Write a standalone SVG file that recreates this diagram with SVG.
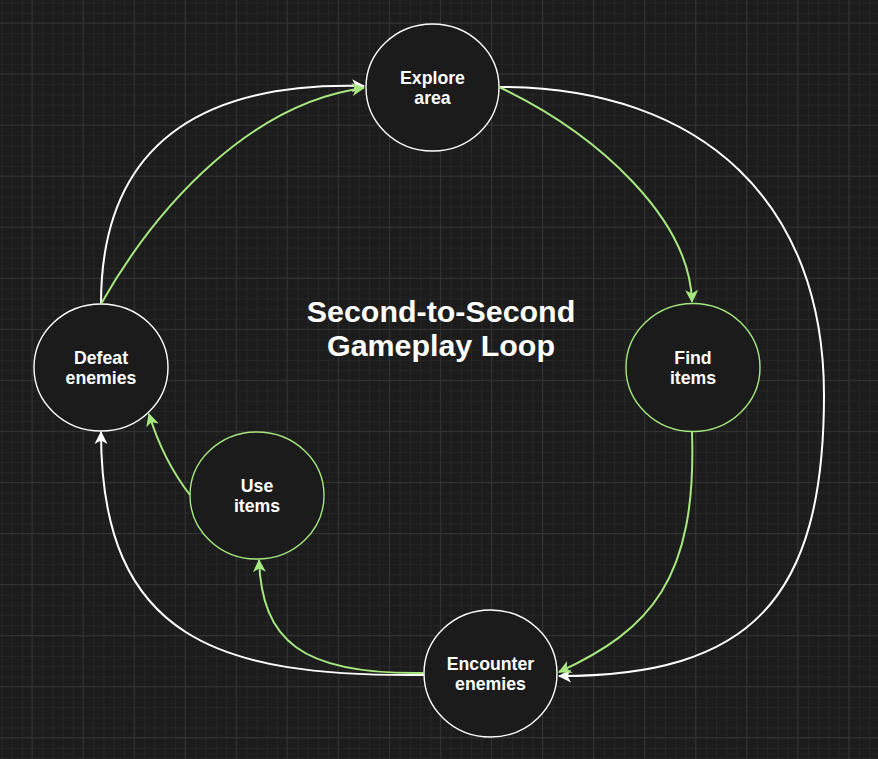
<svg xmlns="http://www.w3.org/2000/svg" width="878" height="759" viewBox="0 0 878 759">
  <defs>
    <pattern id="minor" x="32" y="23" width="10.21" height="10.21" patternUnits="userSpaceOnUse">
      <path d="M0 0.5H10.21M0.5 0V10.21" stroke="#252525" stroke-width="1" fill="none"/>
    </pattern>
    <pattern id="major" x="31.5" y="22.5" width="51.05" height="51.05" patternUnits="userSpaceOnUse">
      <path d="M0 0.5H51.05M0.5 0V51.05" stroke="#333333" stroke-width="1" fill="none"/>
    </pattern>
    <marker id="aw" viewBox="-14 -8 16 16" refX="0" refY="0" markerWidth="16" markerHeight="16" orient="auto" markerUnits="userSpaceOnUse">
      <path d="M1,0 L-12,-6.5 L-8.5,0 L-12,6.5 Z" fill="#ffffff"/>
    </marker>
    <marker id="ag" viewBox="-14 -8 16 16" refX="0" refY="0" markerWidth="16" markerHeight="16" orient="auto" markerUnits="userSpaceOnUse">
      <path d="M1,0 L-12,-6.5 L-8.5,0 L-12,6.5 Z" fill="#a6e87f"/>
    </marker>
  </defs>
  <style>
    .node { fill: #1b1b1b; stroke-width: 1.4; }
    .w { stroke: #ffffff; }
    .g { stroke: #a6e87f; }
    .lbl { font-family: "Liberation Sans", Arial, sans-serif; font-weight: bold; font-size: 17.7px; fill: #ffffff; text-anchor: middle; }
    .title { font-family: "Liberation Sans", Arial, sans-serif; font-weight: bold; font-size: 30.4px; fill: #ffffff; text-anchor: middle; }
    .cw { fill: none; stroke: #ffffff; stroke-width: 2; }
    .cg { fill: none; stroke: #a6e87f; stroke-width: 2; }
  </style>
  <rect width="878" height="759" fill="#1c1c1c"/>
  <rect width="878" height="759" fill="url(#minor)"/>
  <rect width="878" height="759" fill="url(#major)"/>

  <g id="title">
    <text class="title" x="441" y="321.5">Second-to-Second</text>
    <text class="title" x="441" y="355.5">Gameplay Loop</text>
  </g>

  <g id="explore-area">
    <ellipse class="node w" cx="432.5" cy="87.5" rx="66.5" ry="63.5"/>
    <text class="lbl" x="432.5" y="83.5">Explore</text>
    <text class="lbl" x="432.5" y="103.5">area</text>
  </g>
  <g id="find-items">
    <ellipse class="node g" cx="693" cy="367.5" rx="67" ry="64"/>
    <text class="lbl" x="693" y="363.5">Find</text>
    <text class="lbl" x="693" y="384">items</text>
  </g>
  <g id="encounter-enemies">
    <ellipse class="node w" cx="490.5" cy="673.5" rx="66.5" ry="63.5"/>
    <text class="lbl" x="490.5" y="669.5">Encounter</text>
    <text class="lbl" x="490.5" y="690">enemies</text>
  </g>
  <g id="defeat-enemies">
    <ellipse class="node w" cx="101" cy="367.5" rx="67" ry="63.5"/>
    <text class="lbl" x="101" y="363.5">Defeat</text>
    <text class="lbl" x="101" y="384">enemies</text>
  </g>
  <g id="use-items">
    <ellipse class="node g" cx="257" cy="495.5" rx="67" ry="63.5"/>
    <text class="lbl" x="257" y="491.5">Use</text>
    <text class="lbl" x="257" y="512">items</text>
  </g>

  <g id="connectors">
    <path class="cw" d="M101 304 C101 130, 220 82, 364 86" marker-end="url(#aw)"/>
    <path class="cg" d="M101 304 C160 200, 255 102, 364 88" marker-end="url(#ag)"/>
    <path class="cw" d="M499 87 C705 87, 824 205, 824 395 C824 600, 750 676, 559 676" marker-end="url(#aw)"/>
    <path class="cg" d="M499 87 C600 135, 690 220, 692 302" marker-end="url(#ag)"/>
    <path class="cg" d="M692 432 C697 580, 650 630, 559 672" marker-end="url(#ag)"/>
    <path class="cw" d="M424 675 C220 677, 101 640, 101 432" marker-end="url(#aw)"/>
    <path class="cg" d="M424 673 C300 675, 262 640, 259 560" marker-end="url(#ag)"/>
    <path class="cg" d="M190 495 Q163 460, 149 414" marker-end="url(#ag)"/>
  </g>
</svg>
